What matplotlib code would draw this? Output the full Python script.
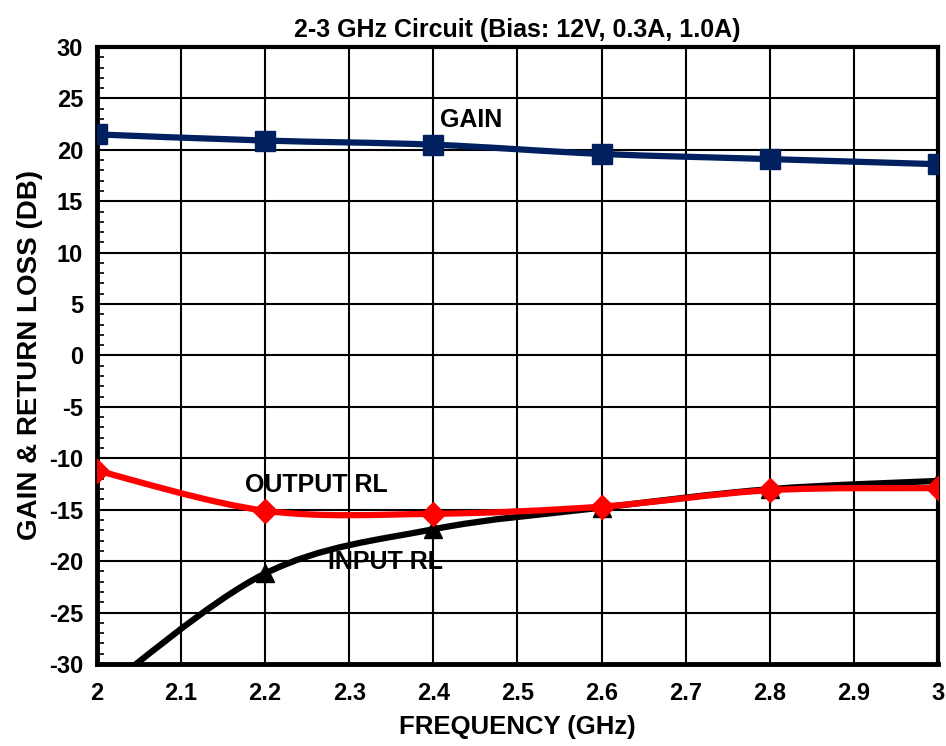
import numpy as np
import matplotlib
matplotlib.use("Agg")
import matplotlib.pyplot as plt
from matplotlib.path import Path
from matplotlib.patches import PathPatch
from matplotlib.ticker import MultipleLocator

plt.rcParams['font.family'] = ['Liberation Sans', 'DejaVu Sans']
plt.rcParams['font.weight'] = 'bold'
plt.rcParams['axes.unicode_minus'] = False

# data
freq = [2.0, 2.2, 2.4, 2.6, 2.8, 3.0]
gain = [21.5, 20.9, 20.5, 19.6, 19.1, 18.6]
output_rl = [-11.2, -15.1, -15.4, -14.7, -13.1, -12.9]
input_rl = [-33.0, -21.2, -16.9, -14.8, -13.0, -12.2]


def smooth_path(xs, ys):
    # catmull-rom style smoothing like a spreadsheet "smoothed line"
    pts = np.column_stack([xs, ys])
    verts = [pts[0]]
    codes = [Path.MOVETO]
    n = len(pts)
    for i in range(n - 1):
        p0 = pts[max(i - 1, 0)]
        p1 = pts[i]
        p2 = pts[i + 1]
        p3 = pts[min(i + 2, n - 1)]
        c1 = p1 + (p2 - p0) / 6.0
        c2 = p2 - (p3 - p1) / 6.0
        verts += [c1, c2, p2]
        codes += [Path.CURVE4] * 3
    return Path(verts, codes)


fig = plt.figure(figsize=(9.46, 7.46), dpi=100)
ax = fig.add_axes([0.1025, 0.11, 0.889, 0.827])

ax.set_xlim(2, 3)
ax.set_ylim(-30, 30)

xt = np.arange(2.0, 3.01, 0.1)
ax.set_xticks(xt)
ax.set_xticklabels(['2' if abs(v - 2) < 1e-9 else ('3' if abs(v - 3) < 1e-9 else f'{v:.1f}') for v in xt])
ax.yaxis.set_major_locator(MultipleLocator(5))
ax.yaxis.set_minor_locator(MultipleLocator(1))
ax.grid(True, which='major', color='black', linewidth=1.5)
ax.set_axisbelow(True)

ax.tick_params(axis='both', which='major', length=0, labelsize=17, pad=10)
ax.tick_params(axis='x', pad=13)
ax.tick_params(axis='y', which='minor', direction='in', length=5, width=1.2, left=True)
for lab in ax.get_xticklabels() + ax.get_yticklabels():
    lab.set_fontweight('bold')

for side in ['left', 'bottom']:
    ax.spines[side].set_linewidth(3.5)
for side in ['top', 'right']:
    ax.spines[side].set_linewidth(3)

series = [
    (gain, '#00205f', 's', 14),
    (input_rl, 'black', '^', 13),
    (output_rl, '#ff0000', 'D', 12),
]
for vals, col, mk, ms in series:
    ax.add_patch(PathPatch(smooth_path(freq, vals), facecolor='none', edgecolor=col,
                           linewidth=4.5, zorder=3))
    ax.plot(freq, vals, linestyle='none', marker=mk, markersize=ms, color=col, zorder=4)

ax.text(2.408, 22.9, 'GAIN', fontsize=18, fontweight='bold', va='center', ha='left')
ax.text(2.176, -12.6, 'OUTPUT RL', fontsize=18, fontweight='bold', va='center', ha='left')
ax.text(2.275, -20.1, 'INPUT RL', fontsize=18, fontweight='bold', va='center', ha='left')

ax.set_title('2-3 GHz Circuit (Bias: 12V, 0.3A, 1.0A)', fontsize=18, fontweight='bold', pad=7)
ax.set_xlabel('FREQUENCY (GHz)', fontsize=18.5, fontweight='bold', labelpad=7)
ax.set_ylabel('GAIN & RETURN LOSS (DB)', fontsize=20, fontweight='bold', labelpad=4)

fig.savefig('out.png', dpi=100)
